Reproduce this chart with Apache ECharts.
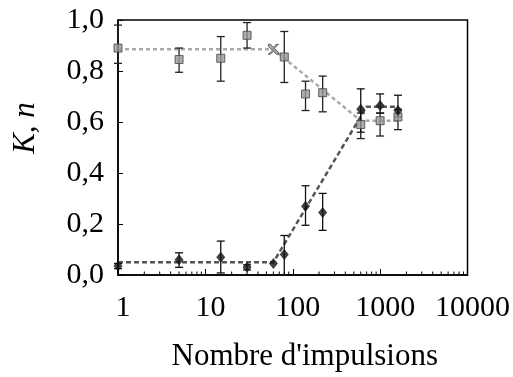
<!DOCTYPE html>
<html>
<head>
<meta charset="utf-8">
<script src="https://cdn.jsdelivr.net/npm/echarts@6/dist/echarts.min.js"></script>
<style>
html, body { margin: 0; padding: 0; background: #fff; }
#main { width: 513px; height: 377px; }
</style>
</head>
<body>
<div id="main"></div>
<script>
// nombre d'impulsions
var pulses = [1, 5, 15, 30, 60, 80, 140, 220, 600, 1000, 1600];

// serie grise (carres hachures)
var grayVal  = [0.89, 0.845, 0.85, 0.94, 0.885, 0.855, 0.71, 0.715, 0.59, 0.605, 0.62];
var grayLow  = [0.83, 0.795, 0.76, 0.89, 0.885, 0.755, 0.645, 0.64, 0.535, 0.545, 0.57];
var grayHigh = [0.98, 0.89, 0.935, 0.99, 0.885, 0.955, 0.76, 0.78, 0.635, 0.635, 0.65];

// serie noire (losanges)
var blackVal  = [0.035, 0.06, 0.07, 0.03, 0.045, 0.08, 0.27, 0.245, 0.65, 0.665, 0.645];
var blackLow  = [0.025, 0.03, 0.008, 0.02, 0.045, 0.0, 0.195, 0.175, 0.56, 0.635, 0.62];
var blackHigh = [0.045, 0.087, 0.133, 0.04, 0.045, 0.155, 0.35, 0.32, 0.73, 0.71, 0.705];

// ajustements (lignes pointillees)
var grayFitX  = [1, 60, 600, 1600];
var grayFitY  = [0.885, 0.885, 0.605, 0.605];
var blackFitX = [1, 60, 700, 1600];
var blackFitY = [0.05, 0.05, 0.66, 0.66];

var font = "'Liberation Serif', 'DejaVu Serif', serif";

// graduations secondaires de l'axe log (2..9 x 10^k)
var minorTicks = [];
for (var d = 1; d < 10000; d *= 10) {
	for (var m = 2; m <= 9; m++) minorTicks.push([m * d]);
}

function pairs(xs, ys) {
	var out = [];
	for (var i = 0; i < xs.length; i++) out.push([xs[i], ys[i]]);
	return out;
}

function errData(xs, lo, hi) {
	var out = [];
	for (var i = 0; i < xs.length; i++) {
		if (hi[i] - lo[i] > 0.001) out.push([xs[i], lo[i], hi[i]]);
	}
	return out;
}

function errRender(color) {
	return function (params, api) {
		var p0 = api.coord([api.value(0), api.value(1)]);
		var p1 = api.coord([api.value(0), api.value(2)]);
		var w = 4;
		var st = { stroke: color, lineWidth: 1.3 };
		return {
			type: 'group',
			children: [
				{ type: 'line', shape: { x1: p0[0], y1: p0[1], x2: p1[0], y2: p1[1] }, style: st },
				{ type: 'line', shape: { x1: p0[0] - w, y1: p0[1], x2: p0[0] + w, y2: p0[1] }, style: st },
				{ type: 'line', shape: { x1: p1[0] - w, y1: p1[1], x2: p1[0] + w, y2: p1[1] }, style: st }
			]
		};
	};
}

var chart = echarts.init(document.getElementById('main'));

chart.setOption({
	animation: false,
	backgroundColor: '#fff',
	grid: { left: 118, right: 42, top: 20, bottom: 102, show: true, borderColor: '#000', borderWidth: 1.5 },
	xAxis: {
		type: 'log',
		logBase: 10,
		min: 1,
		max: 10000,
		axisLine: { lineStyle: { color: '#000', width: 1.5 } },
		axisTick: { inside: true, length: 6, lineStyle: { color: '#000' } },
		splitLine: { show: false },
		axisLabel: {
			color: '#000', fontFamily: font, fontSize: 30, margin: 18,
			padding: [0, 0, 0, 10],
			formatter: function (v) { return String(Math.round(v)); }
		},
		name: "Nombre d'impulsions",
		nameLocation: 'middle',
		nameGap: 66,
		nameTextStyle: { color: '#000', fontFamily: font, fontSize: 31, padding: [0, 0, 0, 24] }
	},
	yAxis: {
		type: 'value',
		min: 0,
		max: 1,
		interval: 0.2,
		axisLine: { lineStyle: { color: '#000', width: 1.5 } },
		axisTick: { inside: true, length: 5, lineStyle: { color: '#000' } },
		splitLine: { show: false },
		axisLabel: {
			color: '#000', fontFamily: font, fontSize: 30, margin: 14,
			formatter: function (v) { return v.toFixed(1).replace('.', ','); }
		}
	},
	graphic: [{
		type: 'text',
		x: 26,
		y: 128,
		rotation: Math.PI / 2,
		style: {
			text: 'K, n',
			font: 'italic 31px ' + font,
			fill: '#000',
			align: 'center',
			verticalAlign: 'middle'
		}
	}],
	series: [
		{
			type: 'custom',
			data: minorTicks,
			encode: { x: 0 },
			silent: true,
			renderItem: function (params, api) {
				var p = api.coord([api.value(0), 0]);
				return {
					type: 'line',
					shape: { x1: p[0], y1: p[1], x2: p[0], y2: p[1] - 3.5 },
					style: { stroke: '#000', lineWidth: 1 }
				};
			},
			z: 1
		},
		{
			type: 'line',
			data: pairs(grayFitX, grayFitY),
			symbol: 'none',
			lineStyle: { color: '#aaa', width: 2.5, type: [4, 3] },
			z: 2
		},
		{
			type: 'line',
			data: pairs(blackFitX, blackFitY),
			symbol: 'none',
			lineStyle: { color: '#555', width: 2.5, type: [5, 3] },
			z: 2
		},
		{
			type: 'custom',
			data: errData(pulses, grayLow, grayHigh),
			renderItem: errRender('#222'),
			encode: { x: 0, y: [1, 2] },
			z: 3
		},
		{
			type: 'custom',
			data: errData(pulses, blackLow, blackHigh),
			renderItem: errRender('#111'),
			encode: { x: 0, y: [1, 2] },
			z: 3
		},
		{
			type: 'scatter',
			data: pairs(pulses, grayVal),
			symbol: function (v, p) {
				return p.dataIndex === 4 ? 'path://M0,0L2,0L5,3L8,0L10,0L6,4L10,8L10,10L8,10L5,7L2,10L0,10L4,6L0,2Z' : 'rect';
			},
			symbolSize: function (v, p) { return p.dataIndex === 4 ? 10 : 8; },
			itemStyle: { color: '#999', borderColor: '#444', borderWidth: 1 },
			z: 4
		},
		{
			type: 'scatter',
			data: pairs(pulses, blackVal),
			symbol: 'diamond',
			symbolSize: [9, 11],
			itemStyle: { color: '#111' },
			z: 4
		}
	]
});
</script>
</body>
</html>
